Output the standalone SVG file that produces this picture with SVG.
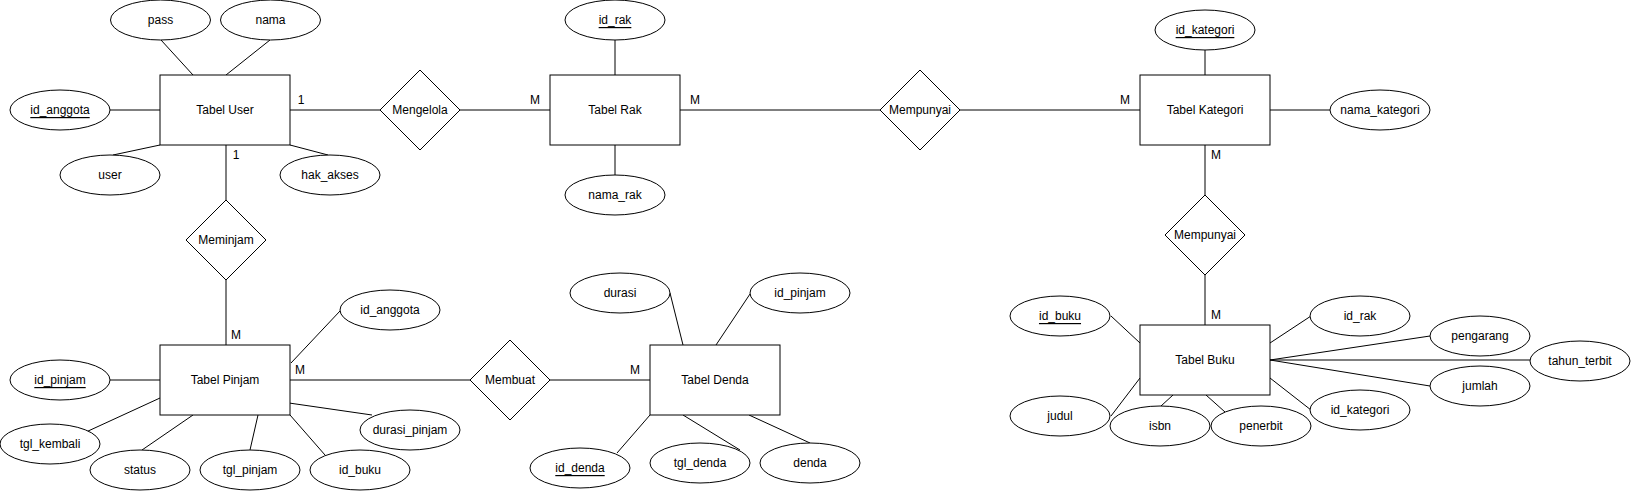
<svg xmlns="http://www.w3.org/2000/svg" width="1631" height="492" viewBox="0 0 1631 492">
<style>
.ent{fill:#fff;stroke:#000;stroke-width:1}
.att{fill:#fff;stroke:#000;stroke-width:1}
.rel{fill:#fff;stroke:#000;stroke-width:1}
.ln{stroke:#000;stroke-width:1;fill:none}
text{font-family:"Liberation Sans",Arial,Helvetica,sans-serif;font-size:12px;fill:#000;text-anchor:middle;dominant-baseline:central}
.pk{text-decoration:underline}
.lbl{text-anchor:middle}
</style>
<rect width="1631" height="492" fill="#fff"/>
<g id="connectors">
<!-- User -->
<line class="ln" x1="161" y1="40" x2="193" y2="75"/>
<line class="ln" x1="270" y1="40" x2="226" y2="75"/>
<line class="ln" x1="110" y1="110" x2="160" y2="110"/>
<line class="ln" x1="113" y1="155" x2="160" y2="145"/>
<line class="ln" x1="290" y1="145" x2="328" y2="155"/>
<line class="ln" x1="290" y1="110" x2="380" y2="110"/>
<line class="ln" x1="226" y1="145" x2="226" y2="200"/>
<!-- Rak -->
<line class="ln" x1="460" y1="110" x2="550" y2="110"/>
<line class="ln" x1="615" y1="40" x2="615" y2="75"/>
<line class="ln" x1="615" y1="145" x2="615" y2="175"/>
<line class="ln" x1="680" y1="110" x2="880" y2="110"/>
<line class="ln" x1="960" y1="110" x2="1140" y2="110"/>
<!-- Kategori -->
<line class="ln" x1="1205" y1="50" x2="1205" y2="75"/>
<line class="ln" x1="1270" y1="110" x2="1330" y2="110"/>
<line class="ln" x1="1205" y1="145" x2="1205" y2="195"/>
<line class="ln" x1="1205" y1="275" x2="1205" y2="325"/>
<!-- Pinjam -->
<line class="ln" x1="226" y1="280" x2="226" y2="345"/>
<line class="ln" x1="340" y1="311" x2="291" y2="363"/>
<line class="ln" x1="110" y1="380" x2="160" y2="380"/>
<line class="ln" x1="290" y1="380" x2="470" y2="380"/>
<line class="ln" x1="86" y1="432" x2="160" y2="398"/>
<line class="ln" x1="142" y1="450" x2="193" y2="415"/>
<line class="ln" x1="250" y1="450" x2="258" y2="415"/>
<line class="ln" x1="325" y1="455" x2="290" y2="415"/>
<line class="ln" x1="289" y1="403" x2="372" y2="415"/>
<!-- Denda -->
<line class="ln" x1="550" y1="380" x2="650" y2="380"/>
<line class="ln" x1="670" y1="293" x2="683" y2="345"/>
<line class="ln" x1="750" y1="294" x2="716" y2="345"/>
<line class="ln" x1="617" y1="453" x2="650" y2="415"/>
<line class="ln" x1="683" y1="415" x2="740" y2="450"/>
<line class="ln" x1="749" y1="415" x2="810" y2="443"/>
<!-- Buku -->
<line class="ln" x1="1111" y1="316" x2="1140" y2="343"/>
<line class="ln" x1="1111" y1="416" x2="1140" y2="378"/>
<line class="ln" x1="1161" y1="406" x2="1173" y2="395"/>
<line class="ln" x1="1206" y1="395" x2="1225" y2="412"/>
<line class="ln" x1="1270" y1="378" x2="1311" y2="410"/>
<line class="ln" x1="1270" y1="343" x2="1311" y2="316"/>
<line class="ln" x1="1270" y1="360" x2="1430" y2="336"/>
<line class="ln" x1="1270" y1="360" x2="1530" y2="360"/>
<line class="ln" x1="1270" y1="360" x2="1430" y2="386"/>
<!-- cardinality labels -->
<text x="301" y="100">1</text>
<text x="236" y="155">1</text>
<text x="535" y="100">M</text>
<text x="695" y="100">M</text>
<text x="1125" y="100">M</text>
<text x="1216" y="155">M</text>
<text x="1216" y="315">M</text>
<text x="236" y="335">M</text>
<text x="300" y="370">M</text>
<text x="635" y="370">M</text>
</g>
<g id="tabel-user"><rect class="ent" x="160" y="75" width="130" height="70"/><text x="225" y="110">Tabel User</text></g>
<g id="attr-pass"><ellipse class="att" cx="160.5" cy="20" rx="50" ry="20"/><text x="160.5" y="20">pass</text></g>
<g id="attr-nama"><ellipse class="att" cx="270.5" cy="20" rx="50" ry="20"/><text x="270.5" y="20">nama</text></g>
<g id="attr-user-id"><ellipse class="att" cx="60" cy="110" rx="50" ry="20"/><text class="pk" x="60" y="110">id_anggota</text></g>
<g id="attr-user"><ellipse class="att" cx="110" cy="175" rx="50" ry="20"/><text x="110" y="175">user</text></g>
<g id="attr-hak"><ellipse class="att" cx="330" cy="175" rx="50" ry="20"/><text x="330" y="175">hak_akses</text></g>
<g id="rel-mengelola"><polygon class="rel" points="420,70 460,110 420,150 380,110"/><text x="420" y="110">Mengelola</text></g>
<g id="rel-meminjam"><polygon class="rel" points="226,200 266,240 226,280 186,240"/><text x="226" y="240">Meminjam</text></g>
<g id="tabel-rak"><rect class="ent" x="550" y="75" width="130" height="70"/><text x="615" y="110">Tabel Rak</text></g>
<g id="attr-idrak"><ellipse class="att" cx="615" cy="20" rx="50" ry="20"/><text class="pk" x="615" y="20">id_rak</text></g>
<g id="attr-namarak"><ellipse class="att" cx="615" cy="195" rx="50" ry="20"/><text x="615" y="195">nama_rak</text></g>
<g id="rel-mempunyai1"><polygon class="rel" points="920,70 960,110 920,150 880,110"/><text x="920" y="110">Mempunyai</text></g>
<g id="tabel-kategori"><rect class="ent" x="1140" y="75" width="130" height="70"/><text x="1205" y="110">Tabel Kategori</text></g>
<g id="attr-idkat"><ellipse class="att" cx="1205" cy="30" rx="50" ry="20"/><text class="pk" x="1205" y="30">id_kategori</text></g>
<g id="attr-namakat"><ellipse class="att" cx="1380" cy="110" rx="50" ry="20"/><text x="1380" y="110">nama_kategori</text></g>
<g id="rel-mempunyai2"><polygon class="rel" points="1205,195 1245,235 1205,275 1165,235"/><text x="1205" y="235">Mempunyai</text></g>
<g id="tabel-pinjam"><rect class="ent" x="160" y="345" width="130" height="70"/><text x="225" y="380">Tabel Pinjam</text></g>
<g id="attr-p-idanggota"><ellipse class="att" cx="390" cy="310" rx="50" ry="20"/><text x="390" y="310">id_anggota</text></g>
<g id="attr-idpinjam"><ellipse class="att" cx="60" cy="380" rx="50" ry="20"/><text class="pk" x="60" y="380">id_pinjam</text></g>
<g id="attr-tglkembali"><ellipse class="att" cx="50" cy="444" rx="50" ry="20"/><text x="50" y="444">tgl_kembali</text></g>
<g id="attr-status"><ellipse class="att" cx="140" cy="470" rx="50" ry="20"/><text x="140" y="470">status</text></g>
<g id="attr-tglpinjam"><ellipse class="att" cx="250" cy="470" rx="50" ry="20"/><text x="250" y="470">tgl_pinjam</text></g>
<g id="attr-p-idbuku"><ellipse class="att" cx="360" cy="470" rx="50" ry="20"/><text x="360" y="470">id_buku</text></g>
<g id="attr-durasipinjam"><ellipse class="att" cx="410" cy="430" rx="50" ry="20"/><text x="410" y="430">durasi_pinjam</text></g>
<g id="rel-membuat"><polygon class="rel" points="510,340 550,380 510,420 470,380"/><text x="510" y="380">Membuat</text></g>
<g id="tabel-denda"><rect class="ent" x="650" y="345" width="130" height="70"/><text x="715" y="380">Tabel Denda</text></g>
<g id="attr-durasi"><ellipse class="att" cx="620" cy="293" rx="50" ry="20"/><text x="620" y="293">durasi</text></g>
<g id="attr-d-idpinjam"><ellipse class="att" cx="800" cy="293" rx="50" ry="20"/><text x="800" y="293">id_pinjam</text></g>
<g id="attr-iddenda"><ellipse class="att" cx="580" cy="468" rx="50" ry="20"/><text class="pk" x="580" y="468">id_denda</text></g>
<g id="attr-tgldenda"><ellipse class="att" cx="700" cy="463" rx="50" ry="20"/><text x="700" y="463">tgl_denda</text></g>
<g id="attr-denda"><ellipse class="att" cx="810" cy="463" rx="50" ry="20"/><text x="810" y="463">denda</text></g>
<g id="tabel-buku"><rect class="ent" x="1140" y="325" width="130" height="70"/><text x="1205" y="360">Tabel Buku</text></g>
<g id="attr-idbuku"><ellipse class="att" cx="1060" cy="316" rx="50" ry="20"/><text class="pk" x="1060" y="316">id_buku</text></g>
<g id="attr-judul"><ellipse class="att" cx="1060" cy="416" rx="50" ry="20"/><text x="1060" y="416">judul</text></g>
<g id="attr-isbn"><ellipse class="att" cx="1160" cy="426" rx="50" ry="20"/><text x="1160" y="426">isbn</text></g>
<g id="attr-penerbit"><ellipse class="att" cx="1261" cy="426" rx="50" ry="20"/><text x="1261" y="426">penerbit</text></g>
<g id="attr-b-idkat"><ellipse class="att" cx="1360" cy="410" rx="50" ry="20"/><text x="1360" y="410">id_kategori</text></g>
<g id="attr-b-idrak"><ellipse class="att" cx="1360" cy="316" rx="50" ry="20"/><text x="1360" y="316">id_rak</text></g>
<g id="attr-pengarang"><ellipse class="att" cx="1480" cy="336" rx="50" ry="20"/><text x="1480" y="336">pengarang</text></g>
<g id="attr-tahun"><ellipse class="att" cx="1580" cy="361" rx="50" ry="20"/><text x="1580" y="361">tahun_terbit</text></g>
<g id="attr-jumlah"><ellipse class="att" cx="1480" cy="386" rx="50" ry="20"/><text x="1480" y="386">jumlah</text></g>
</svg>
